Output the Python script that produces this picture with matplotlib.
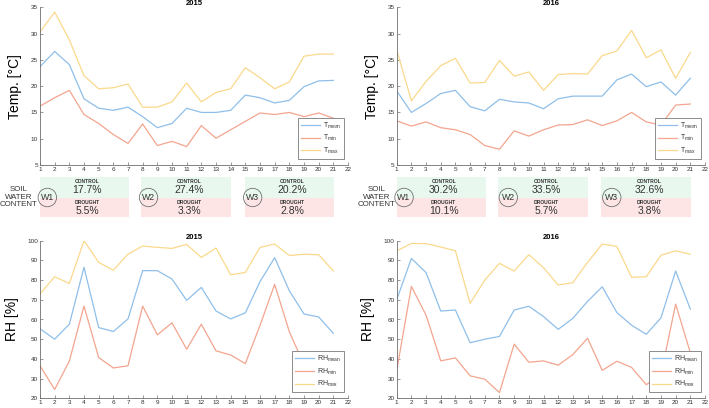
import matplotlib
matplotlib.use("Agg")
import matplotlib.pyplot as plt
from matplotlib.patches import Rectangle

plt.rcParams['font.family'] = ['Liberation Sans', 'DejaVu Sans']
plt.rcParams['mathtext.fontset'] = 'custom'
plt.rcParams['mathtext.rm'] = 'Liberation Sans'
plt.rcParams['mathtext.it'] = 'Liberation Sans'

days = list(range(1, 22))

tmax_2015 = [30.3, 34.1, 28.8, 22.0, 19.5, 19.7, 20.4, 16.0, 16.0, 17.0, 20.6, 17.0, 18.8, 19.5, 23.5, 21.6, 19.5, 20.8, 25.7, 26.1, 26.1]
tmean_2015 = [23.7, 26.6, 24.1, 17.6, 15.8, 15.4, 16.0, 14.2, 12.1, 12.9, 15.8, 15.0, 15.0, 15.4, 18.3, 17.8, 16.8, 17.3, 19.9, 21.0, 21.1]
tmin_2015 = [16.2, 17.8, 19.2, 14.6, 12.9, 10.8, 9.1, 12.8, 8.7, 9.5, 8.5, 12.5, 10.1, 11.7, 13.3, 14.9, 14.6, 15.0, 14.2, 14.9, 13.9]

tmax_2016 = [26.9, 17.2, 20.9, 23.9, 25.3, 20.6, 20.7, 24.9, 21.9, 22.7, 19.2, 22.2, 22.4, 22.3, 25.8, 26.7, 30.6, 25.4, 26.9, 21.5, 26.4]
tmean_2016 = [19.1, 15.0, 16.7, 18.6, 19.2, 16.1, 15.3, 17.5, 17.0, 16.8, 15.7, 17.6, 18.1, 18.1, 18.1, 21.2, 22.3, 19.9, 20.8, 18.3, 21.5]
tmin_2016 = [13.4, 12.4, 13.2, 12.1, 11.7, 10.8, 8.7, 8.0, 11.5, 10.5, 11.7, 12.6, 12.7, 13.6, 12.5, 13.4, 15.0, 13.2, 12.6, 16.4, 16.6]

rhmax_2015 = [73.0, 81.7, 78.3, 100.0, 89.0, 85.0, 93.2, 97.3, 96.6, 96.1, 98.1, 91.5, 96.3, 82.7, 83.9, 96.6, 98.3, 92.5, 93.1, 92.9, 84.6]
rhmean_2015 = [55.3, 50.0, 57.6, 86.5, 55.9, 53.9, 60.3, 84.8, 84.8, 80.5, 69.7, 76.3, 64.3, 60.3, 63.4, 79.2, 91.4, 74.6, 62.8, 61.3, 53.0]
rhmin_2015 = [36.5, 24.5, 38.9, 66.8, 40.7, 35.4, 36.5, 66.8, 52.2, 58.3, 44.9, 57.6, 44.1, 42.0, 37.6, 57.0, 77.8, 53.8, 37.0, 36.0, 32.0]

rhmax_2016 = [94.8, 98.6, 98.5, 96.8, 94.9, 68.2, 80.0, 88.5, 84.6, 92.9, 86.3, 77.5, 78.7, 89.0, 98.3, 97.1, 81.4, 81.7, 92.6, 94.9, 93.1]
rhmean_2016 = [70.0, 91.0, 83.8, 64.3, 64.8, 48.2, 50.0, 51.4, 64.8, 66.7, 61.5, 55.0, 60.6, 69.2, 76.6, 63.5, 57.1, 52.5, 60.8, 84.6, 65.3]
rhmin_2016 = [34.0, 76.8, 62.2, 39.0, 40.5, 31.4, 29.7, 22.9, 47.5, 38.3, 39.0, 36.8, 42.2, 50.5, 34.2, 38.8, 35.7, 26.9, 32.0, 67.8, 43.2]

years = ['2015', '2016']
weeks = ['W1', 'W2', 'W3']
control_2015 = ['17.7%', '27.4%', '20.2%']
drought_2015 = ['5.5%', '3.3%', '2.8%']
control_2016 = ['30.2%', '33.5%', '32.6%']
drought_2016 = ['10.1%', '5.7%', '3.8%']

C_MEAN = '#8fbfe9'
C_MIN = '#f3a58f'
C_MAX = '#fad98c'
GRAY = '#6e6e6e'

W, H = 709, 408
fig = plt.figure(figsize=(W / 100, H / 100), dpi=100)


def fr(x0, y0, x1, y1):
    return [x0 / W, 1 - y1 / H, (x1 - x0) / W, (y1 - y0) / H]


def style(ax, ylim, yticks, ylabel, title):
    ax.set_xlim(1, 22)
    ax.set_xticks(range(1, 23))
    ax.set_ylim(*ylim)
    ax.set_yticks(yticks)
    for s in ['top', 'right']:
        ax.spines[s].set_visible(False)
    for s in ['left', 'bottom']:
        ax.spines[s].set_color(GRAY)
        ax.spines[s].set_linewidth(0.6)
    ax.tick_params(direction='in', length=2, width=0.5, colors=GRAY,
                   labelsize=4.6, labelcolor='#333333', pad=1.5)
    ax.set_ylabel(ylabel, fontsize=10, labelpad=6)
    ax.set_title(title, fontsize=5.5, fontweight='bold', pad=1.5)


def legend(ax, labels, anchor):
    lg = ax.legend(labels, loc='lower right', bbox_to_anchor=anchor,
                   fontsize=5, frameon=True, fancybox=False, framealpha=1,
                   edgecolor='#7a7a7a', handlelength=2.8, handletextpad=0.4,
                   borderpad=0.4, labelspacing=0.35, borderaxespad=0)
    lg.get_frame().set_linewidth(0.6)
    for t in lg.get_texts():
        t.set_color('#333333')


t_axes = [fig.add_axes(fr(40, 7.3, 348, 165)), fig.add_axes(fr(396.7, 7.3, 705, 165))]
r_axes = [fig.add_axes(fr(40, 240.7, 348, 398.3)), fig.add_axes(fr(396.7, 240.7, 705, 398.3))]

tdata = [(tmean_2015, tmin_2015, tmax_2015), (tmean_2016, tmin_2016, tmax_2016)]
rdata = [(rhmean_2015, rhmin_2015, rhmax_2015), (rhmean_2016, rhmin_2016, rhmax_2016)]

tleg = ['T$_{\\mathrm{mean}}$', 'T$_{\\mathrm{min}}$', 'T$_{\\mathrm{max}}$']
rleg = ['RH$_{\\mathrm{mean}}$', 'RH$_{\\mathrm{min}}$', 'RH$_{\\mathrm{max}}$']

for i in range(2):
    ax = t_axes[i]
    for vals, c in zip(tdata[i], [C_MEAN, C_MIN, C_MAX]):
        ax.plot(days, vals, color=c, lw=0.9)
    style(ax, (5, 35), range(5, 36, 5), 'Temp. [°C]', years[i])
    legend(ax, tleg, (0.987, 0.04))

    ax = r_axes[i]
    for vals, c in zip(rdata[i], [C_MEAN, C_MIN, C_MAX]):
        ax.plot(days, vals, color=c, lw=0.9)
    style(ax, (20, 100), range(20, 101, 10), 'RH [%]', years[i])
    legend(ax, rleg, (0.987, 0.04))

# soil water content strips
boxes = [(0.95, 7.05), (7.9, 14.05), (14.95, 21.05)]
circ_x = [[1.5, 8.4, 15.5], [1.5, 8.6, 15.65]]
ctrl = [control_2015, control_2016]
drgt = [drought_2015, drought_2016]
for i in range(2):
    x0 = 40 if i == 0 else 396.7
    x1 = 348 if i == 0 else 705
    sax = fig.add_axes(fr(x0, 172, x1, 222))
    sax.set_xlim(1, 22)
    sax.set_ylim(222, 172)
    sax.axis('off')
    for k, (a, b) in enumerate(boxes):
        sax.add_patch(Rectangle((a, 177), b - a, 21, facecolor='#e8f8ee', edgecolor='none'))
        sax.add_patch(Rectangle((a, 198), b - a, 19.5, facecolor='#fde5e6', edgecolor='none'))
        cx = (a + b) / 2 + 0.2
        sax.text(cx, 182, 'CONTROL', fontsize=3.6, fontweight='bold', ha='center', va='center', color='#333333')
        sax.text(cx, 190.5, ctrl[i][k], fontsize=7.5, ha='center', va='center', color='#333333')
        sax.text(cx, 202.5, 'DROUGHT', fontsize=3.6, fontweight='bold', ha='center', va='center', color='#333333')
        sax.text(cx, 211.5, drgt[i][k], fontsize=7.5, ha='center', va='center', color='#333333')
        sax.text(circ_x[i][k], 197.5, weeks[k], fontsize=6.3, ha='center', va='center', color='#333333',
                 bbox=dict(boxstyle='circle,pad=0.3', facecolor='none', edgecolor='#707070', linewidth=0.6))
    lx = 19 if i == 0 else 377
    fig.text(lx / W, 1 - 197 / H, 'SOIL\nWATER\nCONTENT', fontsize=5.7, ha='center', va='center',
             linespacing=1.15, color='#333333')

fig.savefig('out.png', dpi=100)
